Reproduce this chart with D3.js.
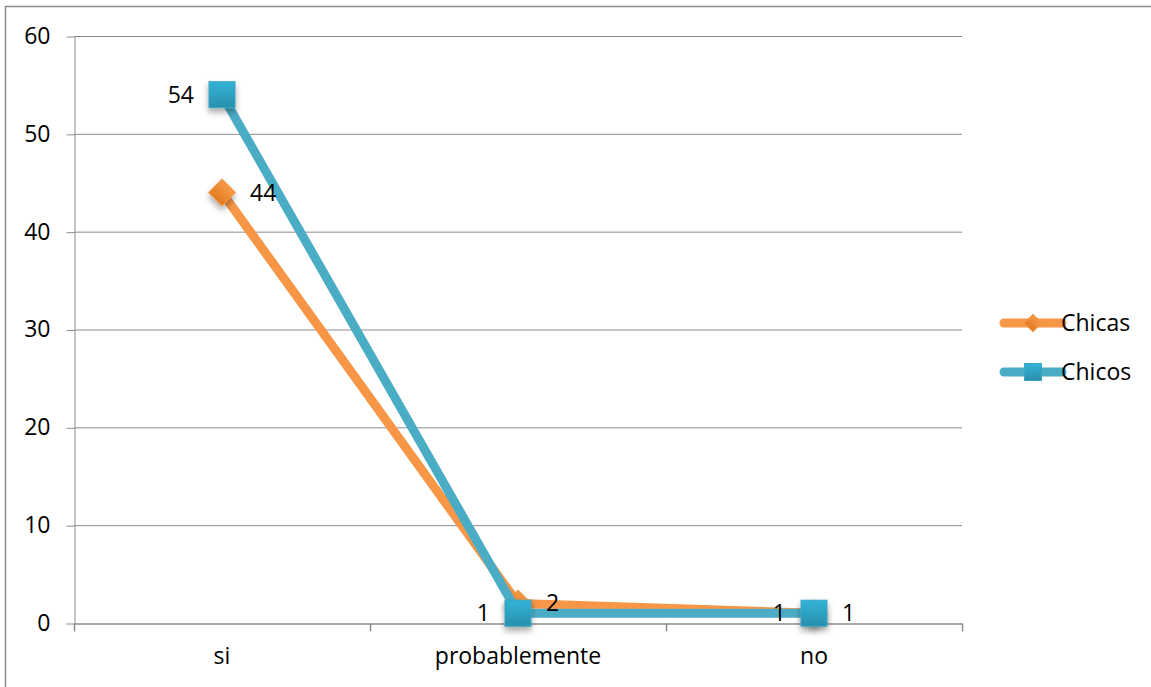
<!DOCTYPE html>
<html>
<head>
<meta charset="utf-8">
<script src="https://cdn.jsdelivr.net/npm/d3@7"></script>
<style>
  body { margin: 0; background: #fff; }
  svg { font-family: "Open Sans", "Liberation Sans", sans-serif; }
</style>
</head>
<body>
<svg id="chart" width="1151" height="687"></svg>
<script>
const categories = ["si", "probablemente", "no"];
const chicas = [44, 2, 1];
const chicos = [54, 1, 1];
const yTicks = [0, 10, 20, 30, 40, 50, 60];

const series = [
    { name: "Chicas", values: chicas, color: "#f79646", shape: "diamond", labelSide: 1 },
    { name: "Chicos", values: chicos, color: "#4bacc6", shape: "square", labelSide: -1 }
];

const FS = 23;
const svg = d3.select("#chart");
const margin = { left: 74, top: 36, right: 962, bottom: 623 };

// outer frame (only left/top visible in the reference)
svg.append("path").attr("d", "M5.5,687 V6.5 H1151").attr("fill", "none").attr("stroke", "#8c8c8c").attr("stroke-width", 1.5);

const defs = svg.append("defs");
const gBlue = defs.append("linearGradient").attr("id", "gBlue").attr("x1", 0).attr("y1", 0).attr("x2", 0).attr("y2", 1);
gBlue.append("stop").attr("offset", "0%").attr("stop-color", "#33b3d8");
gBlue.append("stop").attr("offset", "100%").attr("stop-color", "#2a8fad");
const gOr = defs.append("linearGradient").attr("id", "gOr").attr("x1", 0).attr("y1", 0).attr("x2", 0).attr("y2", 1);
gOr.append("stop").attr("offset", "0%").attr("stop-color", "#f79a48");
gOr.append("stop").attr("offset", "100%").attr("stop-color", "#e07a1f");
const sh = defs.append("filter").attr("id", "shadow").attr("x", "-50%").attr("y", "-50%").attr("width", "200%").attr("height", "200%");
sh.append("feDropShadow").attr("dx", 0).attr("dy", 4).attr("stdDeviation", 3).attr("flood-color", "#000").attr("flood-opacity", 0.35);

const x = d3.scaleBand().domain(categories).range([margin.left, margin.right]);
const y = d3.scaleLinear().domain([0, 60]).range([margin.bottom, margin.top]);

// gridlines
svg.append("g").selectAll("line").data(yTicks.filter(d => d > 0)).join("line")
    .attr("x1", margin.left).attr("x2", margin.right)
    .attr("y1", d => y(d) + 0.5).attr("y2", d => y(d) + 0.5)
    .attr("stroke", "#8c8c8c").attr("stroke-width", 1);

// y axis
const yAxis = svg.append("g").attr("transform", `translate(${margin.left + 0.5},0)`)
    .call(d3.axisLeft(y).tickValues(yTicks).tickSize(8).tickSizeOuter(0).tickPadding(16));
yAxis.attr("font-size", FS).attr("font-family", null);
yAxis.select(".domain").attr("stroke", "#8c8c8c");
yAxis.selectAll(".tick line").attr("stroke", "#8c8c8c").attr("transform", "translate(0,0.5)");
yAxis.selectAll(".tick text").attr("fill", "#000");

// x axis
const xAxis = svg.append("g").attr("transform", `translate(0,${margin.bottom + 0.5})`)
    .call(d3.axisBottom(x).tickSize(0).tickPadding(24));
xAxis.attr("font-size", FS).attr("font-family", null);
xAxis.select(".domain").attr("stroke", "#8c8c8c").attr("stroke-width", 1.5);
xAxis.selectAll(".tick text").attr("fill", "#000");
const bounds = [margin.left].concat(categories.map(c => x(c) + x.bandwidth()));
xAxis.append("g").selectAll("line").data(bounds).join("line")
    .attr("x1", d => d + 0.5).attr("x2", d => d + 0.5).attr("y1", 0).attr("y2", 8)
    .attr("stroke", "#8c8c8c").attr("stroke-width", 1.5);

const cx = c => x(c) + x.bandwidth() / 2;
const line = d3.line().x((d, i) => cx(categories[i])).y(d => y(d));

function marker(g, shape, size) {
    if (shape === "square") {
        g.append("rect").attr("x", -size / 2).attr("y", -size / 2).attr("width", size).attr("height", size)
            .attr("fill", "url(#gBlue)").attr("stroke", "#3aa6c4").attr("stroke-width", 1);
    } else {
        const s = size * 0.72;
        g.append("rect").attr("x", -s / 2).attr("y", -s / 2).attr("width", s).attr("height", s)
            .attr("transform", "rotate(45)")
            .attr("fill", "url(#gOr)").attr("stroke", "#f0923e").attr("stroke-width", 1);
    }
}

series.forEach(s => {
    svg.append("path").datum(s.values).attr("d", line)
        .attr("fill", "none").attr("stroke", s.color).attr("stroke-width", 9)
        .attr("stroke-linejoin", "round").attr("stroke-linecap", "round");
    s.values.forEach((v, i) => {
        const g = svg.append("g").attr("transform", `translate(${cx(categories[i])},${y(v)})`)
            .attr("filter", "url(#shadow)");
        marker(g, s.shape, 26);
    });
});

// data labels
series.forEach(s => {
    svg.append("g").selectAll("text").data(s.values).join("text")
        .attr("x", (d, i) => cx(categories[i]) + s.labelSide * 28)
        .attr("y", d => y(d) + 8)
        .attr("text-anchor", s.labelSide > 0 ? "start" : "end")
        .attr("font-size", FS).attr("fill", "#000")
        .text(d => d);
});

// legend
const legend = svg.append("g");
series.forEach((s, i) => {
    const ly = 323 + i * 49;
    const g = legend.append("g").attr("transform", `translate(0,${ly})`);
    g.append("line").attr("x1", 1004).attr("x2", 1062).attr("y1", 0).attr("y2", 0)
        .attr("stroke", s.color).attr("stroke-width", 9).attr("stroke-linecap", "round");
    const m = g.append("g").attr("transform", "translate(1033,0)");
    marker(m, s.shape, 17);
    g.append("text").attr("x", 1061).attr("y", 8).attr("font-size", FS).attr("fill", "#000").text(s.name);
});
</script>
</body>
</html>
